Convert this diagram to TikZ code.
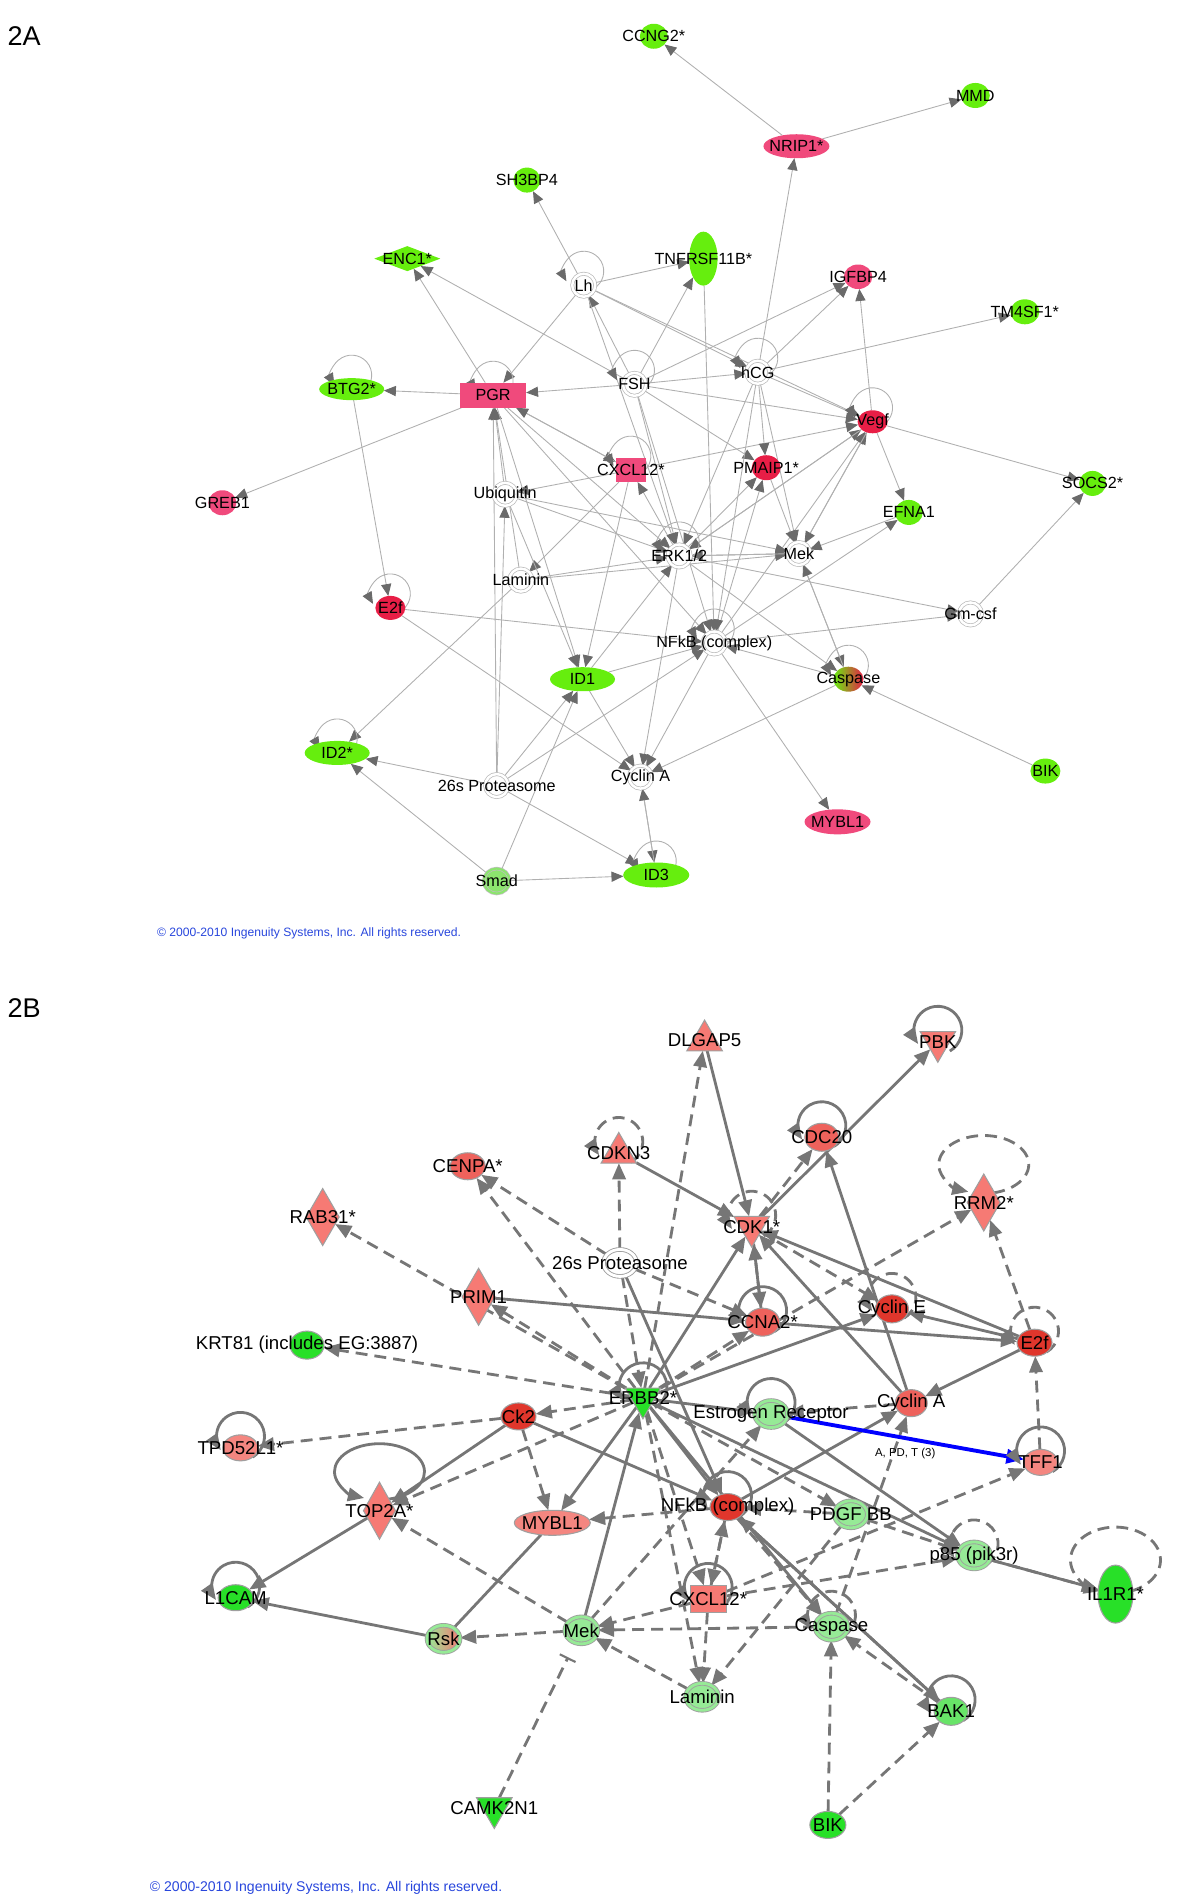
\documentclass[tikz,border=0pt]{standalone}
\usepackage{fontspec}
\setmainfont{Liberation Sans}
\usetikzlibrary{arrows.meta,shapes.geometric}

\definecolor{limeA}{RGB}{102,238,14}
\definecolor{pinkA}{RGB}{240,74,124}
\definecolor{redA}{RGB}{232,30,70}
\definecolor{paleA}{RGB}{140,228,110}
\definecolor{lineA}{RGB}{176,176,176}
\definecolor{tipA}{RGB}{106,106,106}
\definecolor{salB}{RGB}{246,122,116}
\definecolor{rosB}{RGB}{238,98,92}
\definecolor{redB}{RGB}{224,54,44}
\definecolor{lightB}{RGB}{244,134,128}
\definecolor{greenB}{RGB}{40,224,40}
\definecolor{paleB}{RGB}{150,234,150}
\definecolor{midB}{RGB}{104,228,104}
\definecolor{lineB}{RGB}{118,118,118}
\definecolor{ipablue}{RGB}{40,70,220}

\pgfdeclarelayer{edges}
\pgfsetlayers{edges,main}

\tikzset{
  every node/.style={inner sep=0pt, outer sep=0pt},
  gA/.style 2 args={ellipse, minimum width=#1, minimum height=#2},
  boxA/.style 2 args={rectangle, minimum width=#1, minimum height=#2},
  hubA/.style={circle, minimum size=2.3mm, fill=white, draw=gray!55, line width=0.2pt,
    double=white, double distance=0.7pt},
  aedge/.style={draw=lineA, line width=0.25pt, -{Triangle[length=3.4pt,width=2.9pt,color=tipA]}},
  gB/.style 2 args={ellipse, minimum width=#1, minimum height=#2, draw=gray!75, line width=0.3pt},
  hubB/.style={ellipse, minimum width=3.3mm, minimum height=2.7mm, fill=paleB, draw=gray!75,
    line width=0.25pt, double=paleB, double distance=0.8pt},
  triup/.style={regular polygon, regular polygon sides=3, minimum size=4.1mm, draw=gray!75, line width=0.3pt},
  tridn/.style={triup, shape border rotate=180},
  dmd/.style={diamond, minimum width=3.3mm, minimum height=5.7mm, fill=salB, draw=gray!75, line width=0.3pt},
  lnB/.style={draw=lineB, line width=0.8pt},
  dlnB/.style={lnB, dash pattern=on 3.4pt off 2pt},
  sB/.style={lnB, -{Triangle[length=4.6pt,width=3.8pt]}},
  dB/.style={dlnB, -{Triangle[length=4.6pt,width=3.8pt]}},
}

\begin{document}
\begin{tikzpicture}[x=0.12085mm, y=-0.12085mm]
\useasboundingbox (0,0) rectangle (993,1568);

% ---------------- panel 2A ----------------
\node[font=\fontsize{7.7}{8}\selectfont] (tagA) at (20,30) {2A};
\begin{scope}[every label/.style={font=\fontsize{4.6}{5}\selectfont}]
  \node[gA={2.8mm}{2.5mm}, fill=limeA, label=center:CCNG2*] (ccngA) at (541,30) {};
  \node[gA={2.9mm}{2.5mm}, fill=limeA, label=center:MMD] (mmdA) at (807,79) {};
  \node[gA={6.6mm}{2.4mm}, fill=pinkA, label=center:NRIP1*] (nripA) at (659,121) {};
  \node[gA={2.7mm}{2.5mm}, fill=limeA, label=center:SH3BP4] (shA) at (436,149) {};
  \node[diamond, minimum width=6.6mm, minimum height=2.5mm, fill=limeA, label=center:ENC1*] (encA) at (337,214) {};
  \node[gA={2.85mm}{5.4mm}, fill=limeA, label=center:TNFRSF11B*] (tnfA) at (582,214) {};
  \node[hubA, label=center:Lh] (lhA) at (483,236) {};
  \node[gA={2.85mm}{2.45mm}, fill=pinkA, label=center:IGFBP4] (igfA) at (710,229) {};
  \node[gA={2.9mm}{2.5mm}, fill=limeA, label=center:TM4SF1*] (tm4A) at (848,258) {};
  \node[gA={6.5mm}{2.2mm}, fill=limeA, label=center:BTG2*] (btgA) at (291,322) {};
  \node[boxA={6.6mm}{2.5mm}, fill=pinkA, label=center:PGR] (pgrA) at (408,327) {};
  \node[hubA, label=center:FSH] (fshA) at (525,318) {};
  \node[hubA, label=center:hCG] (hcgA) at (627,308) {};
  \node[gA={3.0mm}{2.3mm}, fill=redA, label=center:Vegf] (vegfA) at (722,349) {};
  \node[gA={2.8mm}{2.5mm}, fill=pinkA, label=center:GREB1] (grebA) at (184,416) {};
  \node[boxA={3.0mm}{2.4mm}, fill=pinkA, label=center:CXCL12*] (cxclA) at (522,389) {};
  \node[gA={2.9mm}{2.5mm}, fill=redA, label=center:PMAIP1*] (pmaipA) at (634,387) {};
  \node[hubA, label=center:Ubiquitin] (ubqA) at (418,409) {};
  \node[gA={2.7mm}{2.5mm}, fill=limeA, label=center:SOCS2*] (socsA) at (904,400) {};
  \node[gA={2.8mm}{2.5mm}, fill=limeA, label=center:EFNA1] (efnaA) at (752,424) {};
  \node[hubA, label=center:ERK1/2] (erkA) at (562,460) {};
  \node[hubA, label=center:Mek] (mekA) at (661,458) {};
  \node[hubA, label=center:Laminin] (lamA) at (431,480) {};
  \node[gA={3.0mm}{2.4mm}, fill=redA, label=center:E2f] (e2fA) at (323,503) {};
  \node[hubA, label=center:Gm-csf] (gmA) at (803,508) {};
  \node[hubA, label={center:NFkB (complex)}] (nfkbA) at (591,532) {};
  \node[gA={6.5mm}{2.4mm}, fill=limeA, label=center:ID1] (id1A) at (482,562) {};
  \node[gA={3.0mm}{2.5mm}, left color=limeA, right color=redA, label=center:Caspase] (caspA) at (702,562) {};
  \node[gA={6.5mm}{2.4mm}, fill=limeA, label=center:ID2*] (id2A) at (279,623) {};
  \node[gA={3.0mm}{2.5mm}, fill=limeA, label=center:BIK] (bikA) at (865,638) {};
  \node[hubA, label={center:26s Proteasome}] (protA) at (411,650) {};
  \node[hubA, label={center:Cyclin A}] (cycaA) at (530,643) {};
  \node[gA={6.6mm}{2.5mm}, fill=pinkA, label=center:MYBL1] (myblA) at (693,680) {};
  \node[gA={2.6mm}{2.5mm}, fill=paleA, draw=gray!50, line width=0.2pt, double=paleA,
    double distance=0.6pt, label=center:Smad] (smadA) at (411,729) {};
  \node[gA={6.6mm}{2.5mm}, fill=limeA, label=center:ID3] (id3A) at (543,724) {};
\end{scope}
\node[anchor=west, text=ipablue, font=\fontsize{3.45}{4}\selectfont] (copyA) at (130,772)
  {\textcopyright\ 2000-2010 Ingenuity Systems, Inc. All rights reserved.};

\begin{pgfonlayer}{edges}
  \foreach \s/\t in {nripA/ccngA, nripA/mmdA, hcgA/nripA, lhA/shA, lhA/tnfA, pgrA/encA,
      fshA/encA, lhA/pgrA, fshA/pgrA, pgrA/btgA, pgrA/grebA, btgA/e2fA, fshA/lhA, lhA/hcgA,
      fshA/hcgA, fshA/tnfA, hcgA/igfA, fshA/igfA, hcgA/tm4A, vegfA/igfA, fshA/vegfA,
      lhA/vegfA, hcgA/vegfA, erkA/vegfA, mekA/vegfA, nfkbA/vegfA, cxclA/vegfA, vegfA/socsA,
      vegfA/efnaA, gmA/socsA, erkA/gmA, nfkbA/gmA, efnaA/mekA, nfkbA/efnaA, mekA/caspA,
      caspA/mekA, erkA/caspA, caspA/nfkbA, bikA/caspA, caspA/cycaA, nfkbA/myblA,
      erkA/cxclA, erkA/pmaipA, nfkbA/pmaipA, hcgA/pmaipA, fshA/pmaipA, pgrA/cxclA,
      cxclA/pgrA, cxclA/ubqA, cxclA/lamA, cxclA/id1A, ubqA/pgrA, lamA/pgrA, protA/pgrA,
      pgrA/id1A, ubqA/id1A, protA/ubqA, protA/id1A, protA/nfkbA, protA/id2A, protA/id3A,
      smadA/id2A, smadA/id3A, smadA/id1A, lamA/id2A, e2fA/cycaA, e2fA/nfkbA, id1A/cycaA,
      id1A/nfkbA, erkA/cycaA, nfkbA/cycaA, cycaA/id3A, id3A/cycaA, lamA/erkA, lamA/mekA,
      ubqA/mekA, ubqA/erkA, erkA/mekA, pgrA/erkA, pgrA/nfkbA, fshA/erkA, fshA/nfkbA,
      hcgA/erkA, hcgA/mekA, hcgA/nfkbA, pmaipA/mekA, vegfA/mekA, vegfA/erkA, tnfA/nfkbA,
      mekA/erkA, id1A/erkA, lhA/erkA}
    \draw[aedge] (\s) -- (\t);
  % self loops
  \foreach \n in {lhA,pgrA,btgA,fshA,hcgA,vegfA,cxclA,erkA,nfkbA,e2fA,caspA,id2A,id3A}
    \draw[aedge] ([shift={(0mm,1.4mm)}]\n.center) ++(-60:2mm)
      arc[start angle=-60, end angle=210, radius=2mm];
\end{pgfonlayer}

% ---------------- panel 2B ----------------
\node[font=\fontsize{7.7}{8}\selectfont] (tagB) at (20,834) {2B};
\begin{scope}[every label/.style={font=\fontsize{5.3}{6}\selectfont}]
  \node[triup, fill=salB, label=center:DLGAP5] (dlgB) at (583,861) {};
  \node[tridn, fill=salB, label=center:PBK] (pbkB) at (776,862) {};
  \node[gB={3.4mm}{2.8mm}, fill=rosB, label=center:CDC20] (cdc20B) at (680,941) {};
  \node[triup, fill=salB, label=center:CDKN3] (cdkn3B) at (512,954) {};
  \node[gB={3.5mm}{2.7mm}, fill=rosB, label=center:CENPA*] (cenpaB) at (387,965) {};
  \node[dmd, label=center:RRM2*] (rrm2B) at (814,995) {};
  \node[dmd, label=center:RAB31*] (rab31B) at (267,1007) {};
  \node[tridn, fill=salB, label=center:CDK1*] (cdk1B) at (622,1015) {};
  \node[hubB, fill=white, double=white, label={center:26s Proteasome}] (protB) at (513,1045) {};
  \node[dmd, label=center:PRIM1] (prim1B) at (396,1073) {};
  \node[gB={3.3mm}{2.8mm}, fill=redB, label={center:Cyclin E}] (cyceB) at (738,1083) {};
  \node[gB={3.4mm}{2.8mm}, fill=rosB, label=center:CCNA2*] (ccna2B) at (631,1094) {};
  \node[gB={3.5mm}{2.7mm}, fill=redB, label=center:E2f] (e2fB) at (856,1111) {};
  \node[gB={3.4mm}{2.8mm}, fill=greenB, label={center:{KRT81 (includes EG:3887)}}] (krtB) at (254,1113) {};
  \node[tridn, fill=greenB, label=center:ERBB2*] (erbbB) at (532,1157) {};
  \node[gB={3.5mm}{2.7mm}, fill=redB, label=center:Ck2] (ck2B) at (429,1172) {};
  \node[hubB, label={center:Estrogen Receptor}] (erB) at (638,1170) {};
  \node[gB={3.2mm}{2.7mm}, fill=rosB, label={center:Cyclin A}] (cycaB) at (754,1161) {};
  \node[gB={3.5mm}{2.6mm}, fill=lightB, label=center:TPD52L1*] (tpdB) at (199,1198) {};
  \node[gB={3.4mm}{2.6mm}, fill=lightB, label=center:TFF1] (tff1B) at (861,1210) {};
  \node[dmd, minimum width=3.2mm, label=center:TOP2A*] (top2aB) at (314,1250) {};
  \node[gB={7.6mm}{2.5mm}, fill=lightB, label=center:MYBL1] (myblB) at (457,1260) {};
  \node[gB={3.5mm}{2.7mm}, fill=redB, label={center:NFkB (complex)}] (nfkbB) at (602,1247) {};
  \node[hubB, label={center:PDGF BB}] (pdgfB) at (704,1253) {};
  \node[hubB, label={center:p85 (pik3r)}] (p85B) at (806,1287) {};
  \node[gB={3.5mm}{5.8mm}, fill=greenB, label=center:IL1R1*] (il1rB) at (923,1319) {};
  \node[gB={3.5mm}{2.6mm}, fill=greenB, label=center:L1CAM] (l1camB) at (195,1322) {};
  \node[rectangle, minimum width=3.6mm, minimum height=2.7mm, fill=salB, draw=gray!75,
    line width=0.3pt, label=center:CXCL12*] (cxclB) at (586,1323) {};
  \node[hubB, left color=paleB, right color=salB, label=center:Rsk] (rskB) at (367,1356) {};
  \node[hubB, label=center:Mek] (mekB) at (481,1349) {};
  \node[hubB, label=center:Caspase] (caspB) at (688,1346) {};
  \node[hubB, label=center:Laminin] (lamB) at (581,1404) {};
  \node[gB={3.4mm}{2.8mm}, fill=midB, label=center:BAK1] (bak1B) at (787,1416) {};
  \node[tridn, fill=greenB, label=center:CAMK2N1] (camkB) at (409,1496) {};
  \node[gB={3.6mm}{2.7mm}, fill=greenB, label=center:BIK] (bikB) at (685,1510) {};
\end{scope}
\node[font=\fontsize{3.25}{4}\selectfont] (tfflab) at (749,1203) {A, PD, T (3)};
\node[anchor=west, text=ipablue, font=\fontsize{4.0}{5}\selectfont] (copyB) at (124,1562)
  {\textcopyright\ 2000-2010 Ingenuity Systems, Inc. All rights reserved.};

\begin{pgfonlayer}{edges}
  \foreach \s/\t in {dlgB/cdk1B, cdk1B/pbkB, cdkn3B/cdk1B, cycaB/cdc20B, prim1B/ccna2B,
      ccna2B/cdk1B, e2fB/cdk1B, e2fB/cyceB, ccna2B/e2fB, e2fB/cycaB, cycaB/cdk1B, ck2B/top2aB,
      erbbB/cdk1B, erbbB/myblB, erbbB/erB, erbbB/nfkbB, ck2B/nfkbB, top2aB/l1camB,
      rskB/l1camB, mekB/erbbB, nfkbB/cycaB, erB/p85B, erbbB/p85B, nfkbB/bak1B, bak1B/nfkbB,
      p85B/il1rB, erbbB/cyceB, erbbB/caspB, protB/nfkbB}
    \draw[sB] (\s) -- (\t);
  \foreach \s/\t in {erbbB/dlgB, cdk1B/cdc20B, protB/cdkn3B, protB/cenpaB, erbbB/cenpaB,
      erbbB/rab31B, erbbB/prim1B, erbbB/krtB, ck2B/tpdB, erbbB/top2aB, mekB/top2aB,
      ck2B/myblB, nfkbB/myblB, mekB/rskB, cxclB/mekB, caspB/mekB, lamB/mekB, bikB/caspB,
      bikB/bak1B, bak1B/caspB, cxclB/lamB, pdgfB/lamB, protB/erbbB, protB/ccna2B,
      erbbB/rrm2B, e2fB/rrm2B, tff1B/e2fB, cxclB/tff1B, cdk1B/cyceB, cycaB/erB, erbbB/cxclB,
      erbbB/lamB, nfkbB/cxclB, cxclB/nfkbB, nfkbB/caspB, caspB/cycaB, mekB/erB, pdgfB/nfkbB,
      pdgfB/p85B, cxclB/p85B, erbbB/pdgfB, cdk1B/ccna2B, erbbB/ccna2B, erbbB/ck2B, p85B/il1rB}
    \draw[dB] (\s) -- (\t);
  \draw[lnB] (myblB) -- (rskB);
  \draw[dlnB, -{Bar[width=5pt,line width=0.6pt]}, shorten >=1.6mm] (camkB) -- (mekB);
  \draw[draw=blue, line width=1.1pt, -{Triangle[length=5pt,width=4pt]}] (erB) -- (tff1B);
  % self loops
  \foreach \n/\rx/\ry/\h/\a/\b in {pbkB/2.4/2.4/1.15/-60/215, cdc20B/2.4/2.4/1.15/-60/215,
      ccna2B/2.4/2.4/1.15/-60/215, erbbB/2.4/2.4/1.15/-60/215, erB/2.4/2.4/1.15/-60/215,
      tpdB/2.4/2.4/1.15/-60/215, tff1B/2.4/2.4/1.15/-60/215, nfkbB/2.4/2.4/1.15/-60/215,
      l1camB/2.4/2.4/1.15/-60/215, cxclB/2.4/2.4/1.15/-60/215, bak1B/2.4/2.4/1.15/-60/215,
      top2aB/4.5/2.8/3.9/-78/250}
    \draw[sB] ([shift={(0mm,\h mm)}]\n.center) ++(\a:\rx mm and \ry mm)
      arc[start angle=\a, end angle=\b, x radius=\rx mm, y radius=\ry mm];
  \foreach \n/\rx/\ry/\h/\a/\b in {cdkn3B/2.4/2.4/1.15/-60/215, cdk1B/2.4/2.4/1.15/-60/215,
      cyceB/2.4/2.4/1.15/-60/215, e2fB/2.4/2.4/1.15/-60/215, p85B/2.4/2.4/1.15/-60/215,
      caspB/2.4/2.4/1.15/-60/215, rrm2B/4.5/2.9/3.8/-78/250, il1rB/4.5/3.3/3.4/-70/250}
    \draw[dB] ([shift={(0mm,\h mm)}]\n.center) ++(\a:\rx mm and \ry mm)
      arc[start angle=\a, end angle=\b, x radius=\rx mm, y radius=\ry mm];
\end{pgfonlayer}
\end{tikzpicture}
\end{document}
